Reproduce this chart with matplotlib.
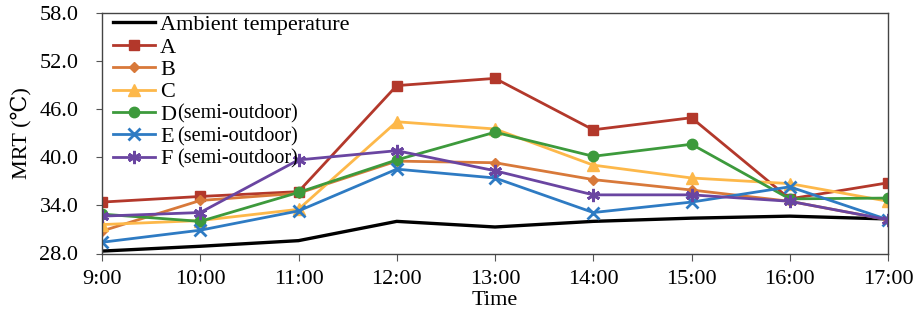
import matplotlib
matplotlib.use("Agg")
import matplotlib.pyplot as plt
from matplotlib.ticker import FormatStrFormatter

plt.rcParams['font.family'] = ['Liberation Serif', 'DejaVu Serif']

times = ["9:00", "10:00", "11:00", "12:00", "13:00", "14:00", "15:00", "16:00", "17:00"]
ambient = [28.3, 28.9, 29.6, 32.0, 31.3, 32.0, 32.4, 32.65, 32.3]
A = [34.4, 35.1, 35.7, 48.9, 49.8, 43.4, 44.9, 34.8, 36.8]
B = [30.8, 34.6, 35.5, 39.5, 39.3, 37.2, 35.9, 34.5, 32.2]
C = [31.6, 32.1, 33.5, 44.4, 43.5, 39.0, 37.4, 36.7, 34.5]
D = [32.9, 32.0, 35.6, 39.65, 43.1, 40.1, 41.6, 34.8, 34.9]
E = [29.4, 30.9, 33.3, 38.5, 37.4, 33.1, 34.4, 36.3, 32.2]
F = [32.65, 33.1, 39.65, 40.8, 38.3, 35.3, 35.3, 34.5, 32.2]

labels = ["Ambient temperature", "A", "B", "C", "D", "E", "F"]
suffixes = ["", "", "", "", "(semi-outdoor)", "(semi-outdoor)", "(semi-outdoor)"]
yticks = [28.0, 34.0, 40.0, 46.0, 52.0, 58.0]

fig = plt.figure(figsize=(9.21, 3.24), dpi=100)
ax = fig.add_axes([102/921, 1-253.5/324, (888-102)/921, (253.5-12.5)/324])

x = list(range(len(times)))
lw = 2.0
ax.plot(x, ambient, color='black', lw=2.4, label=labels[0])
ax.plot(x, A, color='#B3382B', lw=lw, marker='s', ms=7.5, label=labels[1])
ax.plot(x, B, color='#D8793A', lw=lw, marker='D', ms=5.5, label=labels[2])
ax.plot(x, C, color='#FDB84A', lw=lw, marker='^', ms=8.5, label=labels[3])
ax.plot(x, D, color='#3D9A3C', lw=lw, marker='o', ms=7.5, label=labels[4])
ax.plot(x, E, color='#2E7BC3', lw=lw, marker='x', ms=8.5, mew=2, label=labels[5])
ax.plot(x, F, color='#6A45A1', lw=lw, marker=(6, 2, 0), ms=9.5, mew=2, label=labels[6])

ax.set_xlim(0, len(times) - 1)
ax.set_ylim(28, 58)
ax.set_xticks(x)
ax.set_xticklabels(times)
ax.set_yticks(yticks)
ax.yaxis.set_major_formatter(FormatStrFormatter('%.1f'))
ax.tick_params(axis='both', labelsize=16, direction='out', length=5, color='#555555')
ax.tick_params(axis='x', pad=7)
ax.tick_params(axis='y', length=4, pad=13)
for s in ax.spines.values():
    s.set_color('#444444')
    s.set_linewidth(1.0)

ax.set_xlabel("Time", fontsize=16, labelpad=1.5)
ax.set_ylabel("MRT (\u2103)", fontsize=16, labelpad=5.5)

leg = ax.legend(loc='upper left', bbox_to_anchor=(9/786, 1.0), frameon=False,
                fontsize=16, handlelength=1.9, handletextpad=0.2,
                labelspacing=0.08, borderaxespad=0.0, borderpad=0.1)

fig.canvas.draw()
texts = leg.get_texts()
r = fig.canvas.get_renderer()
xs = texts[4].get_window_extent(r).x1 + 1
for t, suf in zip(texts, suffixes):
    if suf:
        bb = t.get_window_extent(r)
        fig.text(xs / fig.bbox.width, (bb.y0 + bb.height * 0.5 + 1) / fig.bbox.height,
                 suf, fontsize=14.5, va='center', ha='left')

fig.savefig("out.png", dpi=100)
